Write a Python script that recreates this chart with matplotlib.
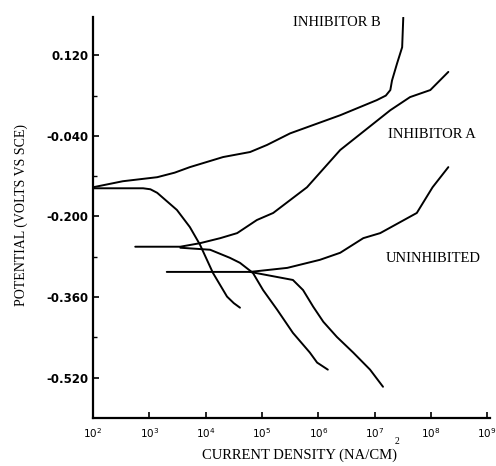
import numpy as np
import matplotlib
matplotlib.use("Agg")
import matplotlib.pyplot as plt
from matplotlib.ticker import FixedLocator

# ---- data (log10 of current density, potential in V vs SCE) ----
b_anodic_logi = [2.00, 2.53, 3.14, 3.45, 3.72, 4.31, 4.79, 5.09, 5.50, 6.39, 7.04, 7.20, 7.28, 7.31, 7.40, 7.49, 7.51]
b_anodic_pot = [-0.142, -0.130, -0.122, -0.113, -0.102, -0.082, -0.072, -0.058, -0.035, 0.001, 0.031, 0.040, 0.051, 0.070, 0.104, 0.136, 0.195]

b_cath_logi = [2.00, 2.89, 3.02, 3.14, 3.49, 3.72, 3.90, 4.13, 4.38, 4.50, 4.61]
b_cath_pot = [-0.144, -0.144, -0.146, -0.153, -0.187, -0.221, -0.256, -0.312, -0.359, -0.372, -0.381]

a_anodic_logi = [2.75, 3.55, 3.90, 4.26, 4.56, 4.91, 5.20, 5.80, 6.39, 7.28, 7.63, 7.99, 8.31]
a_anodic_pot = [-0.260, -0.260, -0.253, -0.243, -0.233, -0.207, -0.193, -0.142, -0.068, 0.011, 0.037, 0.051, 0.087]

a_cath_logi = [3.55, 4.08, 4.43, 4.61, 4.84, 5.02, 5.27, 5.55, 5.85, 5.98, 6.17]
a_cath_pot = [-0.262, -0.266, -0.282, -0.292, -0.312, -0.346, -0.385, -0.431, -0.470, -0.490, -0.504]

u_anodic_logi = [3.31, 4.79, 5.45, 6.03, 6.39, 6.80, 7.10, 7.75, 8.03, 8.31]
u_anodic_pot = [-0.310, -0.310, -0.302, -0.286, -0.272, -0.243, -0.233, -0.193, -0.142, -0.102]

u_cath_logi = [4.79, 5.55, 5.73, 5.91, 6.09, 6.33, 6.62, 6.92, 7.15]
u_cath_pot = [-0.310, -0.326, -0.346, -0.379, -0.409, -0.439, -0.470, -0.504, -0.538]

y_ticks = [0.120, -0.040, -0.200, -0.360, -0.520]
y_tick_labels = ["0.120", "-0.040", "-0.200", "-0.360", "-0.520"]
y_minor = [0.040, -0.120, -0.280, -0.440]
x_exponents = [2, 3, 4, 5, 6, 7, 8, 9]

series = [
    (b_anodic_logi, b_anodic_pot), (b_cath_logi, b_cath_pot),
    (a_anodic_logi, a_anodic_pot), (a_cath_logi, a_cath_pot),
    (u_anodic_logi, u_anodic_pot), (u_cath_logi, u_cath_pot),
]

W, H = 496, 466
fig = plt.figure(figsize=(W / 100, H / 100), dpi=100)
left, right, top, bottom = 93, 490, 17, 418
ax = fig.add_axes([left / W, (H - bottom) / H, (right - left) / W, (bottom - top) / H])

for lx, py in series:
    ax.plot(10 ** np.array(lx), py, color="black", lw=1.4,
            solid_capstyle="round", solid_joinstyle="round")

ax.set_xscale("log")
ax.set_xlim(1e2, 10 ** 9.05)
ax.set_ylim(-0.60, 0.196)

ax.xaxis.set_major_locator(FixedLocator([10.0 ** e for e in x_exponents]))
ax.xaxis.set_minor_locator(FixedLocator([]))
ax.set_xticklabels([f"$10^{{{e}}}$" for e in x_exponents])
ax.set_yticks(y_ticks)
ax.set_yticklabels(y_tick_labels)
ax.yaxis.set_minor_locator(FixedLocator(y_minor))

for s in ["top", "right"]:
    ax.spines[s].set_visible(False)
for s in ["left", "bottom"]:
    ax.spines[s].set_linewidth(1.6)

ax.tick_params(axis="both", which="major", direction="in", length=4, width=1.2)
ax.tick_params(axis="y", which="minor", direction="in", length=3, width=1.0)
ax.tick_params(axis="y", pad=3, labelsize=8.5)
ax.tick_params(axis="x", pad=6, labelsize=7.5)
for lab in ax.get_yticklabels() + ax.get_xticklabels():
    lab.set_fontweight("bold")

serif = "Liberation Serif"
fig.text(293 / W, 1 - 22 / H, "INHIBITOR B", family=serif, fontsize=10.5,
         ha="left", va="center")
fig.text(388 / W, 1 - 134 / H, "INHIBITOR A", family=serif, fontsize=10.5,
         ha="left", va="center")
fig.text(386 / W, 1 - 258 / H, "UNINHIBITED", family=serif, fontsize=10.5,
         ha="left", va="center")

fig.text(21 / W, 1 - 215 / H, "POTENTIAL (VOLTS VS SCE)", family=serif,
         fontsize=10, rotation=90, ha="center", va="center")
fig.text(300 / W, 1 - 455 / H, "CURRENT DENSITY (NA/CM)", family=serif,
         fontsize=10.5, ha="center", va="center")
fig.text(397 / W, 1 - 442 / H, "2", family=serif, fontsize=7,
         ha="center", va="center")

fig.savefig("out.png", dpi=100)
